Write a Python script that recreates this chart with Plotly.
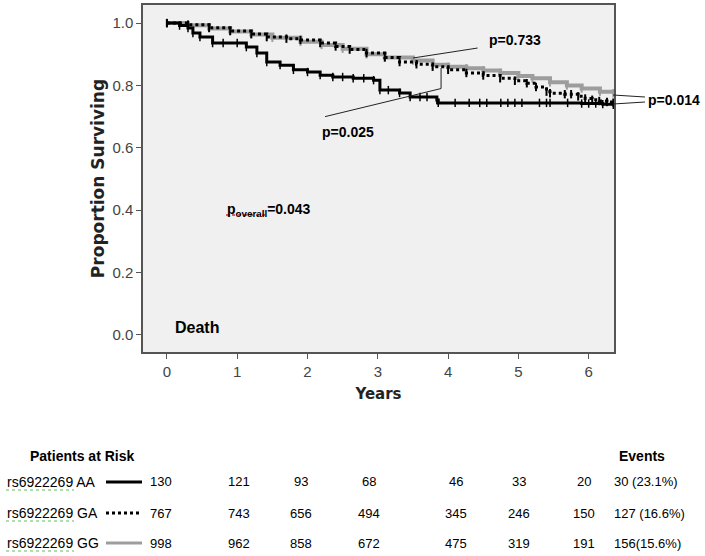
import plotly.graph_objects as go

# Kaplan-Meier curves (years, proportion surviving)
aa_years = [0, 0.18, 0.3, 0.37, 0.47, 0.65, 0.8, 1.0, 1.13, 1.28, 1.42, 1.61, 1.8, 2.0, 2.18, 2.36,
            2.5, 2.65, 2.8, 2.94, 3.03, 3.15, 3.31, 3.46, 3.6, 3.7, 3.84, 3.86, 4.1, 4.3, 4.45,
            4.55, 4.75, 4.85, 4.95, 5.05, 5.3, 5.4, 5.45, 5.7, 5.9, 6.0, 6.1, 6.2, 6.35]
aa_surv = [1.0, 0.992, 0.984, 0.968, 0.955, 0.936, 0.936, 0.936, 0.923, 0.904, 0.875, 0.865, 0.85,
           0.843, 0.833, 0.827, 0.827, 0.823, 0.823, 0.817, 0.785, 0.785, 0.776, 0.763, 0.763,
           0.763, 0.753, 0.744, 0.744, 0.744, 0.744, 0.744, 0.744, 0.744, 0.744, 0.744, 0.744,
           0.744, 0.744, 0.744, 0.742, 0.742, 0.742, 0.740, 0.738]

ga_years = [0, 0.3, 0.6, 0.9, 1.2, 1.42, 1.7, 1.9, 2.18, 2.4, 2.6, 2.84, 3.1, 3.31, 3.55, 3.78, 4.0,
            4.26, 4.5, 4.74, 4.95, 5.12, 5.25, 5.4, 5.45, 5.66, 5.75, 5.85, 5.95, 6.05, 6.15, 6.26, 6.35]
ga_surv = [1.0, 0.995, 0.985, 0.975, 0.965, 0.955, 0.95, 0.946, 0.936, 0.925, 0.915, 0.904, 0.89,
           0.875, 0.868, 0.86, 0.85, 0.84, 0.832, 0.823, 0.815, 0.807, 0.795, 0.78, 0.775, 0.772,
           0.772, 0.765, 0.758, 0.754, 0.75, 0.747, 0.745]

gg_years = [0, 0.3, 0.6, 0.9, 1.2, 1.5, 1.9, 2.2, 2.5, 2.84, 3.1, 3.5, 3.78, 4.0, 4.26, 4.5, 4.74,
            5.0, 5.2, 5.45, 5.69, 5.9, 6.16, 6.35]
gg_surv = [1.0, 0.993, 0.983, 0.973, 0.963, 0.953, 0.94, 0.93, 0.918, 0.9, 0.89, 0.88, 0.866, 0.86,
           0.855, 0.848, 0.84, 0.83, 0.823, 0.81, 0.80, 0.79, 0.78, 0.775]

# Patients at risk table
genotypes = ['rs6922269 AA', 'rs6922269 GA', 'rs6922269 GG']
at_risk = [
    [130, 121, 93, 68, 46, 33, 20],
    [767, 743, 656, 494, 345, 246, 150],
    [998, 962, 858, 672, 475, 319, 191],
]
events = ['30 (23.1%)', '127 (16.6%)', '156(15.6%)']

y_ticks = [0.0, 0.2, 0.4, 0.6, 0.8, 1.0]
x_ticks = [0, 1, 2, 3, 4, 5, 6]

# layout geometry (pixels)
W, H = 705, 556
L, R, T, B = 143, 91, 5, 204
PW, PH = W - L - R, H - T - B


def px(x):
    return (x - L) / PW


def py(y):
    return (H - B - y) / PH


ARIAL = 'Liberation Sans, Arial, sans-serif'

fig = go.Figure()

fig.add_trace(go.Scatter(
    x=gg_years, y=gg_surv, mode='lines+markers', line_shape='hv', name='GG',
    line=dict(color='#9d9d9d', width=4),
    marker=dict(symbol='line-ns', size=6, line=dict(color='#9d9d9d', width=2))
))
fig.add_trace(go.Scatter(
    x=ga_years, y=ga_surv, mode='lines+markers', line_shape='hv', name='GA',
    line=dict(color='black', width=3, dash='dot'),
    marker=dict(symbol='line-ns', size=6, line=dict(color='black', width=2))
))
fig.add_trace(go.Scatter(
    x=aa_years, y=aa_surv, mode='lines+markers', line_shape='hv', name='AA',
    line=dict(color='black', width=3),
    marker=dict(symbol='line-ns', size=6, line=dict(color='black', width=1.5))
))

# p-value annotations inside the plot
p_font = dict(family=ARIAL, size=14, color='black')
for x, y, txt, size in [(4.55, 0.946, '<b>p=0.733</b>', 14),
                        (2.18, 0.65, '<b>p=0.025</b>', 14),
                        (0.825, 0.40, '<b>p<sub>overall</sub>=0.043</b>', 14),
                        (0.08, 0.022, '<b>Death</b>', 16)]:
    fig.add_annotation(x=x, y=y, text=txt, showarrow=False, xanchor='left', yanchor='middle',
                       font=dict(family=ARIAL, size=size, color='black'))
fig.add_annotation(x=px(646), y=py(100), xref='paper', yref='paper', text='<b>p=0.014</b>',
                   showarrow=False, xanchor='left', yanchor='middle', font=p_font)

# pointer lines
for x0, y0, x1, y1 in [(3.5, 0.888, 4.42, 0.92), (2.25, 0.70, 3.9, 0.79), (3.9, 0.856, 3.9, 0.79)]:
    fig.add_shape(type='line', x0=x0, y0=y0, x1=x1, y1=y1, line=dict(color='#222', width=1))
for y0, y1 in [(95, 97), (104, 102)]:
    fig.add_shape(type='line', xref='paper', yref='paper', x0=px(613), y0=py(y0), x1=px(645),
                  y1=py(y1), line=dict(color='#222', width=1))
# red spell-check underline under "overall"
fig.add_shape(type='line', xref='paper', yref='paper', x0=px(226), y0=py(215), x1=px(265),
              y1=py(215), line=dict(color='#d03030', width=1.5, dash='dot'))

# patients at risk table
fig.add_annotation(x=px(28), y=py(456), xref='paper', yref='paper', text='<b>Patients at Risk</b>',
                   showarrow=False, xanchor='left', yanchor='middle',
                   font=dict(family=ARIAL, size=14, color='black'))
fig.add_annotation(x=px(617), y=py(456), xref='paper', yref='paper', text='<b>Events</b>',
                   showarrow=False, xanchor='left', yanchor='middle',
                   font=dict(family=ARIAL, size=14, color='black'))

row_y = [482, 513, 543]
col_x = [161, 239, 301, 369, 456, 519, 584]
sample_lines = [dict(color='black', width=3), dict(color='black', width=3, dash='dot'),
                dict(color='#9d9d9d', width=3)]
for i, label in enumerate(genotypes):
    yy = py(row_y[i])
    fig.add_annotation(x=px(5), y=yy, xref='paper', yref='paper', text=label, showarrow=False,
                       xanchor='left', yanchor='middle',
                       font=dict(family=ARIAL, size=14, color='black'))
    fig.add_shape(type='line', xref='paper', yref='paper', x0=px(6), x1=px(74),
                  y0=py(row_y[i] + 8), y1=py(row_y[i] + 8),
                  line=dict(color='#5cbf5c', width=1, dash='dot'))
    fig.add_shape(type='line', xref='paper', yref='paper', x0=px(106), x1=px(142), y0=yy, y1=yy,
                  line=sample_lines[i])
    for j, n in enumerate(at_risk[i]):
        fig.add_annotation(x=px(col_x[j]), y=yy, xref='paper', yref='paper', text=str(n),
                           showarrow=False, xanchor='center', yanchor='middle',
                           font=dict(family=ARIAL, size=13, color='black'))
    fig.add_annotation(x=px(612), y=yy, xref='paper', yref='paper', text=events[i],
                       showarrow=False, xanchor='left', yanchor='middle',
                       font=dict(family=ARIAL, size=13, color='black'))

fig.update_layout(
    width=W, height=H,
    margin=dict(l=L, r=R, t=T, b=B, autoexpand=False),
    plot_bgcolor='#f0f0f0',
    paper_bgcolor='white',
    showlegend=False,
)
fig.update_xaxes(
    range=[-0.34, 6.36], tickvals=x_ticks, ticks='outside', ticklen=5, tickcolor='#555',
    showline=True, linecolor='#555', linewidth=1.5, mirror=True, showgrid=False, zeroline=False,
    automargin=False, tickfont=dict(family=ARIAL, size=15, color='#444'),
    title=dict(text='<b>Years</b>', standoff=10,
               font=dict(family='DejaVu Sans, sans-serif', size=15, color='#222'))
)
fig.update_yaxes(
    range=[-0.055, 1.058], tickvals=y_ticks, tickformat='.1f', ticks='outside', ticklen=5,
    tickcolor='#555', showline=True, linecolor='#555', linewidth=1.5, mirror=True, showgrid=False,
    zeroline=False, automargin=False, tickfont=dict(family=ARIAL, size=15, color='#444'),
    title=dict(text='<b>Proportion Surviving</b>', standoff=3,
               font=dict(family='DejaVu Sans, sans-serif', size=17, color='#222'))
)

# drop the default page margin so the figure sits at the window's corner
fig.write_html('out.html', config={'displayModeBar': False},
               post_script="document.body.style.margin='0';")
